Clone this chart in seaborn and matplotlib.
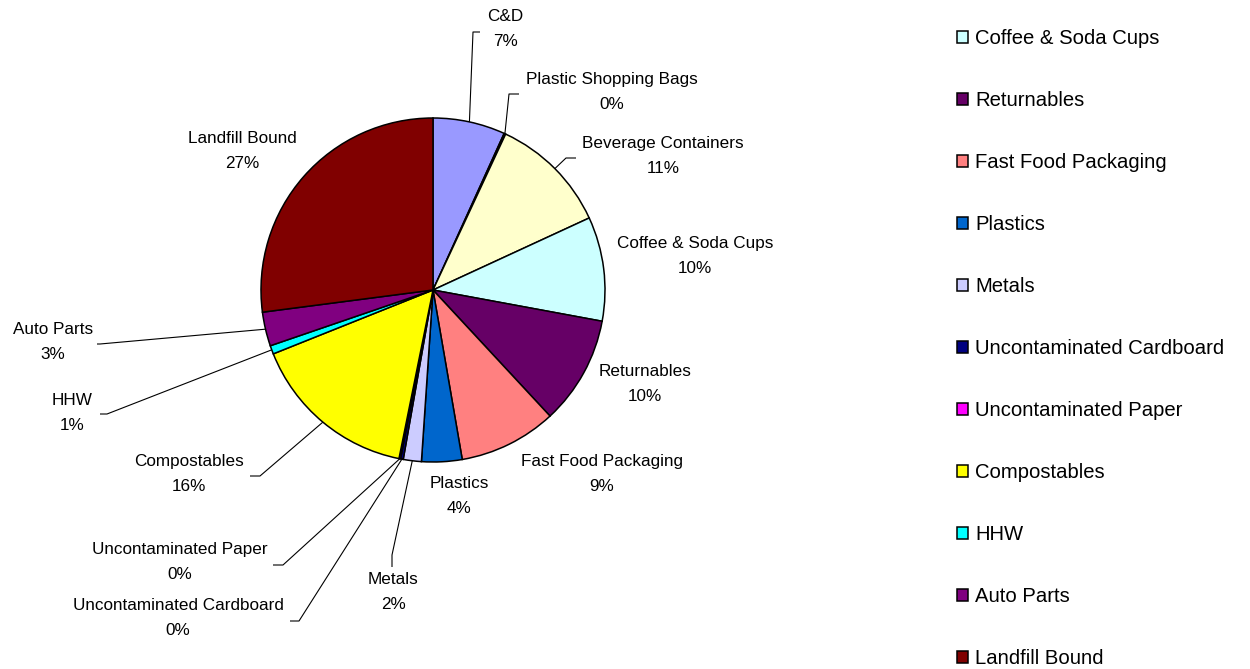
import numpy as np
import matplotlib
matplotlib.use("Agg")
import matplotlib.pyplot as plt
import seaborn as sns

# ---- data -------------------------------------------------------------
categories = ["C&D", "Plastic Shopping Bags", "Beverage Containers",
              "Coffee & Soda Cups", "Returnables", "Fast Food Packaging",
              "Plastics", "Metals", "Uncontaminated Cardboard",
              "Uncontaminated Paper", "Compostables", "HHW", "Auto Parts",
              "Landfill Bound"]
values = [6.8, 0.15, 11.2, 9.8, 10.2, 9.2, 3.8, 1.7, 0.25, 0.15, 15.8, 0.8,
          3.2, 27.1]
colors = ["#9999FF", "#993366", "#FFFFCC", "#CCFFFF", "#660066", "#FF8080",
          "#0066CC", "#CCCCFF", "#000080", "#FF00FF", "#FFFF00", "#00FFFF",
          "#800080", "#800000"]
legend_start = 3  # legend shows entries from "Coffee & Soda Cups" on

# ---- style -------------------------------------------------------------
sns.set_theme(style="white")
plt.rcParams["font.family"] = ["Liberation Sans", "DejaVu Sans"]
plt.rcParams["text.color"] = "black"

W, H = 1250, 669
fig = plt.figure(figsize=(W / 100, H / 100), dpi=100)
ax = fig.add_axes([0, 0, 1, 1])

cx, cy, R = 433, H - 290, 172
wedges, _ = ax.pie(values, colors=colors, startangle=90, counterclock=False,
                   center=(cx, cy), radius=R, frame=True,
                   wedgeprops=dict(edgecolor="black", linewidth=1.1))
ax.set_xlim(0, W)
ax.set_ylim(0, H)
ax.set_aspect("equal")
ax.axis("off")

total = sum(values)
pcts = [f"{round(v / total * 100):.0f}%" for v in values]

# label layout in pixel coords (y down): text centre, leader polyline (after edge point)
layout = {
    "C&D": ((505, 29), [(473, 32), (480, 32)]),
    "Plastic Shopping Bags": ((612, 92), [(509, 94), (519, 94)]),
    "Beverage Containers": ((663, 156), [(566, 158), (576, 158)]),
    "Coffee & Soda Cups": ((695, 256), None),
    "Returnables": ((645, 384), None),
    "Fast Food Packaging": ((602, 474), None),
    "Plastics": ((459, 496), None),
    "Metals": ((393, 592), [(392, 555), (392, 567)]),
    "Uncontaminated Cardboard": ((178, 618), [(299, 621), (290, 621)]),
    "Uncontaminated Paper": ((180, 562), [(283, 565), (273, 565)]),
    "Compostables": ((189, 474), [(260, 476), (250, 476)]),
    "HHW": ((72, 413), [(107, 414), (100, 414)]),
    "Auto Parts": ((53, 342), [(100, 344), (97, 344)]),
    "Landfill Bound": ((242, 151), None),
}

for w, name, pct in zip(wedges, categories, pcts):
    (tx, ty), leader = layout[name]
    ax.text(tx, H - ty, f"{name}\n{pct}", ha="center", va="center",
            multialignment="center", fontsize=12.3, color="black",
            linespacing=1.9)
    if leader:
        mid = np.deg2rad((w.theta1 + w.theta2) / 2)
        ex, ey = cx + R * np.cos(mid), cy + R * np.sin(mid)
        xs = [ex] + [p[0] for p in leader]
        ys = [ey] + [H - p[1] for p in leader]
        ax.plot(xs, ys, color="black", lw=0.8, solid_capstyle="butt")

leg = ax.legend(wedges[legend_start:], categories[legend_start:],
                loc="upper left", bbox_to_anchor=(957 / W, 1 - 29 / H),
                bbox_transform=fig.transFigure, frameon=False,
                fontsize=14.6, handlelength=0.55, handleheight=0.55,
                handletextpad=0.35, labelspacing=2.12, borderpad=0,
                borderaxespad=0, labelcolor="black")

fig.savefig("out.png", dpi=100, facecolor="white")
